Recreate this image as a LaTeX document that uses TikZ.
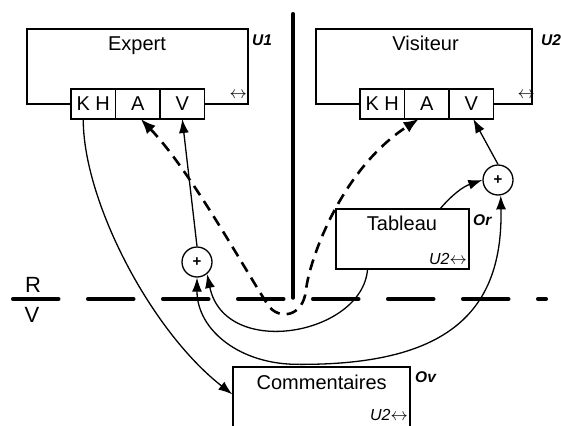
\documentclass[tikz,border=0pt]{standalone}
\usepackage{fontspec}
\setmainfont{Liberation Sans}
\usetikzlibrary{positioning, arrows.meta}
\newcommand{\swap}{{\fontsize{19}{20}\selectfont$\leftrightarrow$}}

\begin{document}
\begin{tikzpicture}[
    x=1pt, y=-1pt,
    every node/.style={font=\fontsize{20}{24}\selectfont, inner sep=0pt},
    unit/.style={draw, line width=1.3pt},
    cell/.style={draw, fill=white, line width=1.3pt, outer sep=0pt, minimum width=44.5pt, minimum height=30pt},
    tag/.style={font=\fontsize{15.5}{17}\selectfont\bfseries\itshape},
    small/.style={font=\fontsize{16}{18}\selectfont},
    sum/.style={draw, circle, fill=white, line width=1.3pt, minimum size=30pt, font=\fontsize{15}{16}\selectfont\bfseries},
    link/.style={line width=1.3pt, -{Latex[length=14pt,width=10pt]}},
    flow/.style={line width=2.6pt, dash pattern=on 11pt off 7pt, {Latex[length=15pt,width=12pt]}-{Latex[length=15pt,width=12pt]}},
    border/.style={line width=3.5pt, line cap=round}
]
    \clip (0,0) rectangle (561,425);

    % real / virtual border
    \draw[border] (293,13.75) -- (293,298);
    \draw[border, dash pattern=on 46pt off 29pt] (12.75,299) -- (546.25,299);
    \node[anchor=base, font=\fontsize{22}{26}\selectfont] (rlbl) at (33,292) {R};
    \node[anchor=base, font=\fontsize{22}{26}\selectfont] (vlbl) at (32,322) {V};

    % Expert
    \node[unit, minimum width=221pt, minimum height=75pt] (expert) at (137.5,66.5) {};
    \node[anchor=base] (expertname) at (137,51) {Expert};
    \node[tag, anchor=base west] (u1) at (252,46) {U1};
    \node[small, anchor=base east] (expertsw) at (247,99) {\swap};
    \node[cell] (kh1) at (93.25,104) {K H};
    \node[cell, right=0pt of kh1] (a1) {A};
    \node[cell, right=0pt of a1] (v1) {V};

    % Visiteur
    \node[unit, minimum width=216pt, minimum height=75pt] (visitor) at (424,66.5) {};
    \node[anchor=base] (visitorname) at (425.5,51) {Visiteur};
    \node[tag, anchor=base west] (u2) at (541,46) {U2};
    \node[small, anchor=base east] (visitorsw) at (535,99) {\swap};
    \node[cell] (kh2) at (382.25,104) {K H};
    \node[cell, right=0pt of kh2] (a2) {A};
    \node[cell, right=0pt of a2] (v2) {V};

    % Tableau
    \node[unit, minimum width=133pt, minimum height=60pt] (tab) at (402.5,239) {};
    \node[anchor=base] (tabname) at (402,230.7) {Tableau};
    \node[small, anchor=base east] (tabsw) at (467,264) {\textit{U2}\swap};
    \node[tag, anchor=base west] (or) at (473,225) {Or};

    % Commentaires
    \node[unit, minimum width=177pt, minimum height=78pt] (cmt) at (321.5,406) {};
    \node[anchor=base] (cmtname) at (321.7,389) {Commentaires};
    \node[small, anchor=base east] (cmtsw) at (408,420) {\textit{U2}\swap};
    \node[tag, anchor=base west] (ov) at (415,382) {Ov};

    % sums
    \node[sum] (lsum) at (197,262) {+};
    \node[sum] (rsum) at (498,180) {+};
    \coordinate (cstart) at ([xshift=-22pt, yshift=2pt]cmt.north);

    % links
    \draw[flow] ([xshift=3pt]a1.south) .. controls (190,170) and (245,270) .. (268,305)
        .. controls (278,320) and (303,318) .. (306,290)
        .. controls (309,262) and (340,170) .. ([xshift=-8pt]a2.south);
    \draw[link] ([xshift=-10pt]kh1.south) .. controls (83,200) and (150,330) .. ([yshift=-28pt]cmt.north west);
    \draw[link] (lsum.north) -- (v1.south);
    \draw[link] (rsum.north) -- ([xshift=2pt]v2.south);
    \draw[link] ([xshift=38pt]tab.north) to[bend left=15] (rsum.west);
    \draw[link] ([xshift=-35pt]tab.south) .. controls (362,335) and (225,360) .. (lsum.-50);
    \draw[link] (cstart) .. controls (240,365) and (197,330) .. (lsum.south);
    \draw[link] (cstart) .. controls (450,365) and (503,310) .. (rsum.-80);
\end{tikzpicture}
\end{document}
